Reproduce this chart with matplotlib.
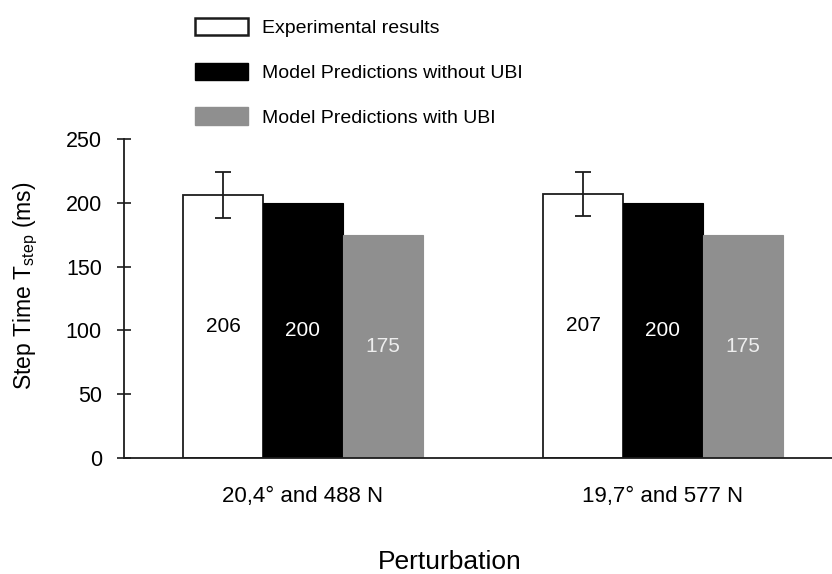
import matplotlib
matplotlib.use("Agg")
import matplotlib.pyplot as plt
from matplotlib.patches import Patch
import numpy as np

plt.rcParams['font.family'] = ['Liberation Sans', 'DejaVu Sans']
plt.rcParams['mathtext.fontset'] = 'custom'
plt.rcParams['mathtext.rm'] = 'Liberation Sans'
plt.rcParams['mathtext.it'] = 'Liberation Sans'

categories = ["20,4° and 488 N", "19,7° and 577 N"]
series_names = ["Experimental results", "Model Predictions without UBI", "Model Predictions with UBI"]
experimental = [206, 207]
experimental_err = [18, 17]
model_without_ubi = [200, 200]
model_with_ubi = [175, 175]
yticks = [0, 50, 100, 150, 200, 250]

W, H = 832, 574
fig = plt.figure(figsize=(W / 100, H / 100), dpi=100)
ax_left, ax_right, ax_top, ax_bottom = 124, 832, 139, 458
ax = fig.add_axes([ax_left / W, 1 - ax_bottom / H, (ax_right - ax_left) / W, (ax_bottom - ax_top) / H])

x = np.arange(len(categories))
bw = 80 / 360.0
edge = "#1c1c1c"
b1 = ax.bar(x - bw, experimental, bw, color="white", edgecolor=edge, linewidth=1.3,
            yerr=experimental_err, capsize=5.5, error_kw=dict(ecolor=edge, elinewidth=1.3, capthick=1.3), zorder=2)
b2 = ax.bar(x, model_without_ubi, bw, color="black", edgecolor="black", linewidth=0.8, zorder=2)
b3 = ax.bar(x + bw, model_with_ubi, bw, color="#8f8f8f", edgecolor="#8f8f8f", linewidth=0.8, zorder=2)

for bars, vals, col in [(b1, experimental, "black"), (b2, model_without_ubi, "white"), (b3, model_with_ubi, "#eeeeee")]:
    for r, v in zip(bars, vals):
        ax.text(r.get_x() + r.get_width() / 2, v / 2, str(v), ha="center", va="center",
                fontsize=15, color=col, zorder=3)

ax.set_ylim(0, 250)
ax.set_xlim(-179 / 360.0, 1 + 169 / 360.0)
ax.set_yticks(yticks)
ax.set_xticks(x)
ax.set_xticklabels(categories, fontsize=16)
ax.tick_params(axis="y", direction="inout", length=10, width=1.2, labelsize=15.5, color=edge, pad=11)
ax.tick_params(axis="x", length=0, pad=20)
for s in ["top", "right"]:
    ax.spines[s].set_visible(False)
for s in ["left", "bottom"]:
    ax.spines[s].set_color(edge)
    ax.spines[s].set_linewidth(1.3)

ax.set_ylabel(r"Step Time T$_{\rm step}$ (ms)", fontsize=16.5)
ax.yaxis.set_label_coords(-(ax_left - 26) / (ax_right - ax_left), (ax_bottom - 286) / (ax_bottom - ax_top))
ax.yaxis.label.set_va("center")
ax.set_xlabel("Perturbation", fontsize=19)
ax.xaxis.set_label_coords((450 - ax_left) / (ax_right - ax_left), -(562 - ax_bottom) / (ax_bottom - ax_top))
ax.xaxis.label.set_va("center")

handles = [Patch(facecolor="white", edgecolor=edge, linewidth=1.8),
           Patch(facecolor="black", edgecolor="black"),
           Patch(facecolor="#8f8f8f", edgecolor="#8f8f8f")]
leg = fig.legend(handles, series_names, loc="upper left", bbox_to_anchor=(195 / W, 1 - 18 / H),
                 frameon=False, fontsize=14, handlelength=2.75, handleheight=1.0,
                 labelspacing=1.3, handletextpad=0.7, borderaxespad=0, borderpad=0)

fig.savefig("out.png", dpi=100)
